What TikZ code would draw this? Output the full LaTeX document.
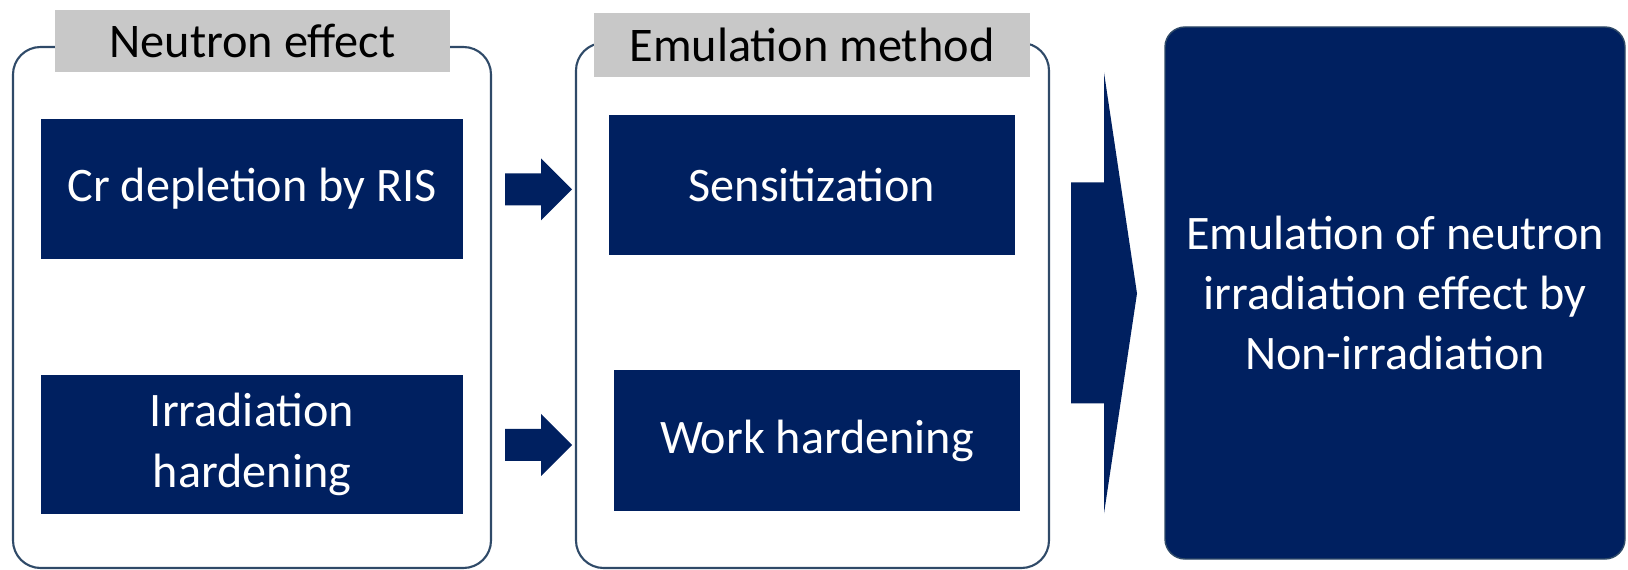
\documentclass[tikz,border=0pt]{standalone}
\usepackage{fontspec}
\setmainfont{Carlito}
\definecolor{navy}{RGB}{0,32,96}
\definecolor{tabgray}{RGB}{200,200,200}
\definecolor{frameline}{RGB}{47,74,104}
\tikzset{
	groupframe/.style={draw=frameline,line width=1.2pt,rounded corners=5.5mm},
	tab/.style={fill=tabgray,inner sep=0pt,font=\fontsize{27.5}{32}\selectfont},
	block/.style={fill=navy,text=white,inner sep=0pt,align=center,font=\fontsize{27.4}{34.3}\selectfont},
	blockarrow/.style={fill=navy}
}
\begin{document}
\begin{tikzpicture}[x=0.2mm,y=-0.2mm]
	\useasboundingbox (0,0) rectangle (1628,570);
	% two groups
	\draw[groupframe] (13,47) rectangle (491,568);
	\draw[groupframe] (576,43) rectangle (1049,568);
	\node[tab,minimum width=79mm,minimum height=12.4mm] (neutron) at (252.5,41) {Neutron effect};
	\node[tab,minimum width=87.2mm,minimum height=12.8mm] (emul) at (812,45) {Emulation method};
	% boxes
	\node[block,minimum width=84.4mm,minimum height=28mm] (cr) at (252,189) {Cr depletion by RIS};
	\node[block,minimum width=84.4mm,minimum height=27.8mm] (irr) at (252,444.5) {Irradiation\\hardening};
	\node[block,minimum width=81.2mm,minimum height=28mm] (sens) at (812,185) {Sensitization};
	\node[block,minimum width=81.2mm,minimum height=28.2mm] (work) at (817,440.5) {Work hardening};
	\node[block,draw=frameline,line width=0.8pt,rounded corners=4mm,minimum width=92mm,minimum height=106.4mm] (result) at (1395,293)
		{Emulation of neutron\\irradiation effect by\\Non-irradiation};
	% arrows
	\coordinate (a1) at (cr.east -| 505,0);
	\coordinate (a2) at (irr.east -| 505,0);
	\foreach \a in {a1,a2}
		\fill[blockarrow] (\a) ++(0,-15.5) -- ++(36,0) -- ++(0,-15) -- ++(31,31) -- ++(-31,31) -- ++(0,-15) -- ++(-36,0) -- cycle;
	\coordinate (a3) at (result.west -| 1071,0);
	\fill[blockarrow] (a3) ++(0,-110.5) -- ++(33,0) -- ++(0,-110) -- ++(33,221) -- ++(-33,220) -- ++(0,-110) -- ++(-33,0) -- cycle;
\end{tikzpicture}
\end{document}
